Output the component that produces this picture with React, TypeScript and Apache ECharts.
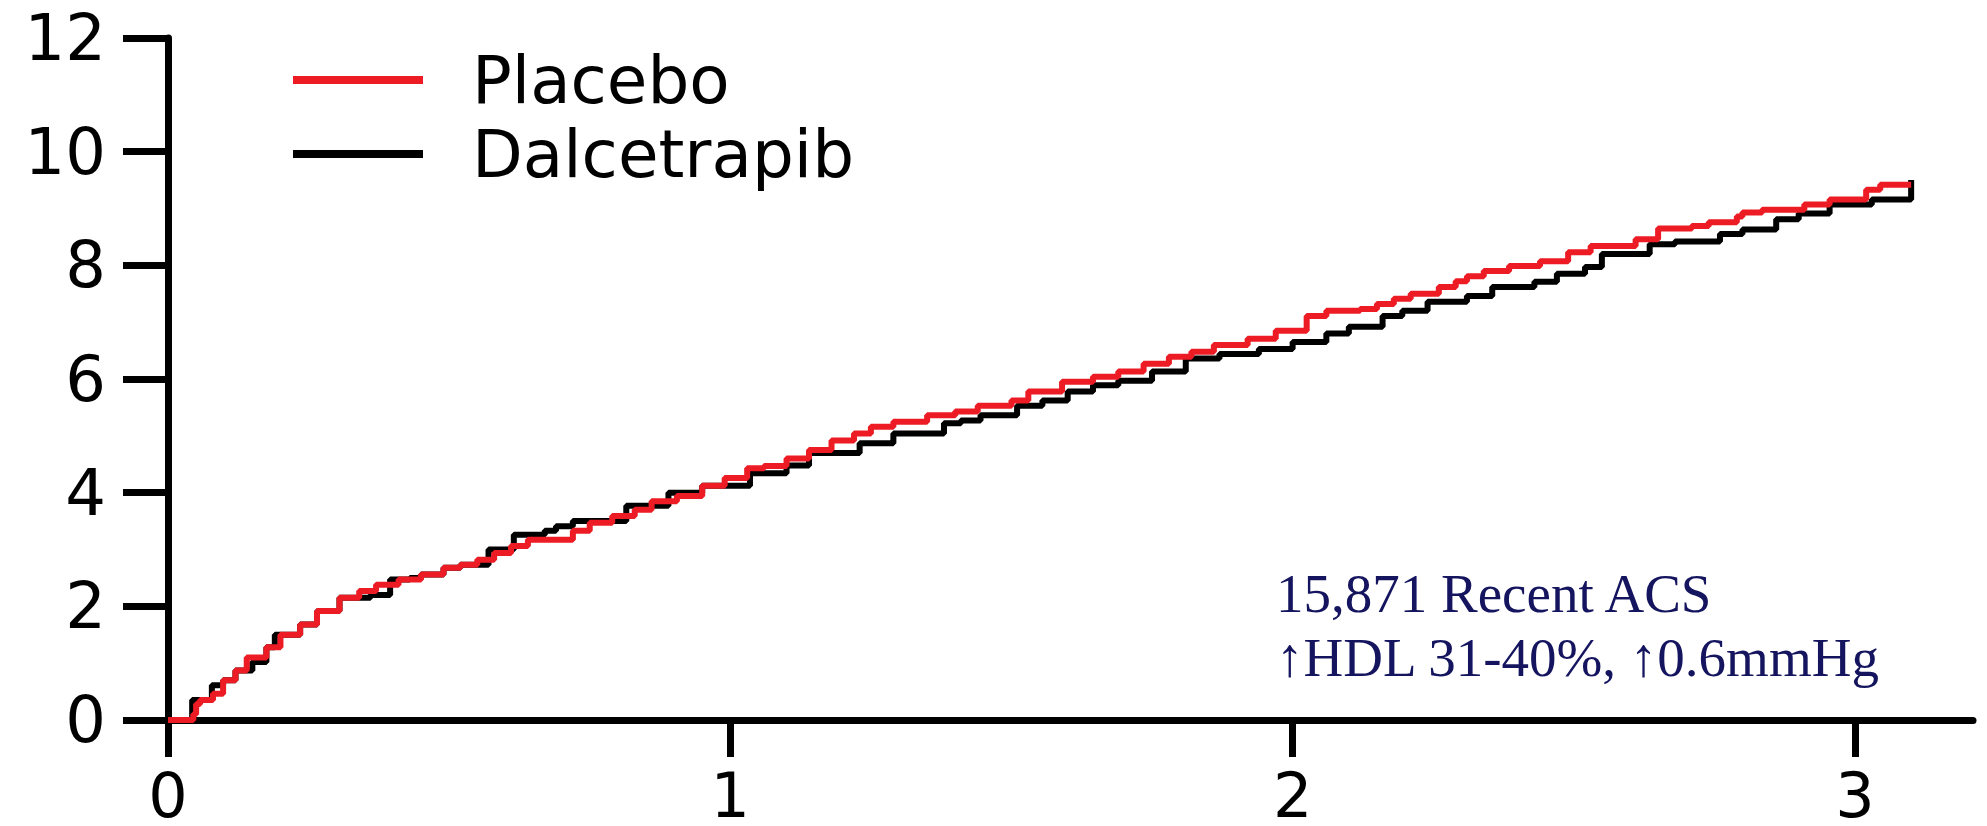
import React, { useEffect, useRef } from "react";
import * as echarts from "echarts";

const xTicks = [0, 1, 2, 3];
const yTicks = [0, 2, 4, 6, 8, 10, 12];
const seriesNames = ["Placebo", "Dalcetrapib"];

const placebo: [number, number][] = [
  [0, 0], [0.045, 0.1], [0.05, 0.28], [0.057, 0.35], [0.08, 0.46], [0.098, 0.7], [0.12, 0.87],
  [0.14, 1.1], [0.175, 1.28], [0.2, 1.5], [0.235, 1.68], [0.265, 1.92], [0.305, 2.15], [0.34, 2.27],
  [0.37, 2.38], [0.41, 2.47], [0.45, 2.56], [0.49, 2.68], [0.52, 2.73], [0.55, 2.82], [0.58, 2.94],
  [0.61, 3.06], [0.64, 3.17], [0.72, 3.33], [0.75, 3.47], [0.79, 3.59], [0.83, 3.7], [0.86, 3.85],
  [0.905, 3.94], [0.95, 4.12], [0.99, 4.26], [1.03, 4.43], [1.06, 4.47], [1.1, 4.6], [1.14, 4.75],
  [1.18, 4.92], [1.22, 5.04], [1.25, 5.16], [1.29, 5.25], [1.35, 5.36], [1.4, 5.43], [1.44, 5.53],
  [1.5, 5.62], [1.53, 5.78], [1.59, 5.95], [1.645, 6.04], [1.69, 6.13], [1.735, 6.27], [1.78, 6.39],
  [1.82, 6.48], [1.86, 6.6], [1.92, 6.71], [1.97, 6.85], [2.025, 7.11], [2.06, 7.2], [2.12, 7.23],
  [2.15, 7.32], [2.18, 7.41], [2.21, 7.5], [2.26, 7.62], [2.29, 7.72], [2.31, 7.81], [2.34, 7.9],
  [2.385, 7.99], [2.44, 8.07], [2.49, 8.23], [2.53, 8.34], [2.61, 8.46], [2.65, 8.65], [2.71, 8.69],
  [2.74, 8.76], [2.79, 8.86], [2.8, 8.93], [2.835, 8.98], [2.91, 9.07], [2.955, 9.16], [3.02, 9.33],
  [3.045, 9.42], [3.1, 9.42],
];

const dalcetrapib: [number, number][] = [
  [0, 0], [0.043, 0.35], [0.078, 0.61], [0.098, 0.7], [0.12, 0.87], [0.15, 1.02], [0.175, 1.28],
  [0.19, 1.5], [0.235, 1.68], [0.265, 1.92], [0.305, 2.15], [0.36, 2.2], [0.395, 2.47], [0.43, 2.5],
  [0.45, 2.56], [0.49, 2.68], [0.52, 2.73], [0.57, 3.0], [0.615, 3.26], [0.67, 3.33], [0.69, 3.41],
  [0.72, 3.5], [0.815, 3.77], [0.89, 4.0], [0.95, 4.12], [1.035, 4.34], [1.1, 4.48], [1.14, 4.7],
  [1.23, 4.87], [1.29, 5.04], [1.38, 5.22], [1.41, 5.27], [1.445, 5.36], [1.51, 5.53], [1.555, 5.62],
  [1.6, 5.78], [1.645, 5.89], [1.69, 5.97], [1.75, 6.13], [1.81, 6.36], [1.87, 6.44], [1.94, 6.53],
  [2.0, 6.65], [2.06, 6.8], [2.1, 6.92], [2.16, 7.11], [2.195, 7.2], [2.24, 7.36], [2.31, 7.46],
  [2.355, 7.62], [2.43, 7.71], [2.47, 7.85], [2.52, 7.97], [2.55, 8.2], [2.635, 8.37], [2.68, 8.42],
  [2.76, 8.55], [2.8, 8.63], [2.86, 8.81], [2.9, 8.91], [2.955, 9.07], [3.03, 9.16], [3.1, 9.16],
  [3.1, 9.5],
];

const annotationLines = ["15,871 Recent ACS", "\u2191HDL 31-40%, \u21910.6mmHg"];

export default function App() {
  const ref = useRef<HTMLDivElement>(null);

  useEffect(() => {
    if (!ref.current) return;
    const chart = echarts.init(ref.current, null, { renderer: "svg" });
    const axisFont = "DejaVu Sans";
    chart.setOption({
      animation: false,
      backgroundColor: "#ffffff",
      grid: { left: 168, right: 14, top: 38, bottom: 103, containLabel: false },
      legend: {
        data: seriesNames,
        orient: "vertical",
        left: 288,
        top: 42,
        itemWidth: 130,
        itemHeight: 8,
        itemGap: 8,
        icon: "rect",
        formatter: (name: string) => `{a|${name}}`,
        textStyle: {
          rich: {
            a: {
              fontFamily: axisFont,
              fontSize: 66,
              color: "#000000",
              lineHeight: 70,
              padding: [0, 0, 0, 44],
            },
          },
        },
      },
      xAxis: {
        type: "value",
        min: 0,
        max: 3.21,
        interval: 1,
        axisLine: { show: true, onZero: false, lineStyle: { color: "#000", width: 7 } },
        axisTick: { show: true, length: 37, lineStyle: { color: "#000", width: 7 }, customValues: xTicks },
        axisLabel: {
          customValues: xTicks,
          margin: 50,
          fontFamily: axisFont,
          fontSize: 62,
          lineHeight: 50,
          color: "#000",
        },
        splitLine: { show: false },
      },
      yAxis: {
        type: "value",
        min: 0,
        max: 12,
        interval: 2,
        axisLine: { show: true, lineStyle: { color: "#000", width: 7 } },
        axisTick: { show: true, length: 45, lineStyle: { color: "#000", width: 7 }, customValues: yTicks },
        axisLabel: {
          customValues: yTicks,
          margin: 62,
          fontFamily: axisFont,
          fontSize: 64,
          color: "#000",
        },
        splitLine: { show: false },
      },
      series: [
        {
          name: seriesNames[1],
          type: "line",
          step: "end",
          symbol: "none",
          data: dalcetrapib,
          color: "#000000",
          lineStyle: { color: "#000000", width: 6 },
          z: 2,
        },
        {
          name: seriesNames[0],
          type: "line",
          step: "end",
          symbol: "none",
          data: placebo,
          color: "#ED1C24",
          lineStyle: { color: "#ED1C24", width: 6 },
          z: 3,
        },
      ],
      graphic: annotationLines.map((t, i) => ({
        type: "text",
        left: 1276,
        top: 566 + i * 64,
        style: {
          text: t,
          fontFamily: "Liberation Serif",
          fontSize: 55,
          fill: "#14145f",
        },
      })),
    });
    return () => chart.dispose();
  }, []);

  return (
    <div
      ref={ref}
      style={{ position: "absolute", left: 0, top: 0, width: 1987, height: 826, background: "#fff" }}
    />
  );
}
